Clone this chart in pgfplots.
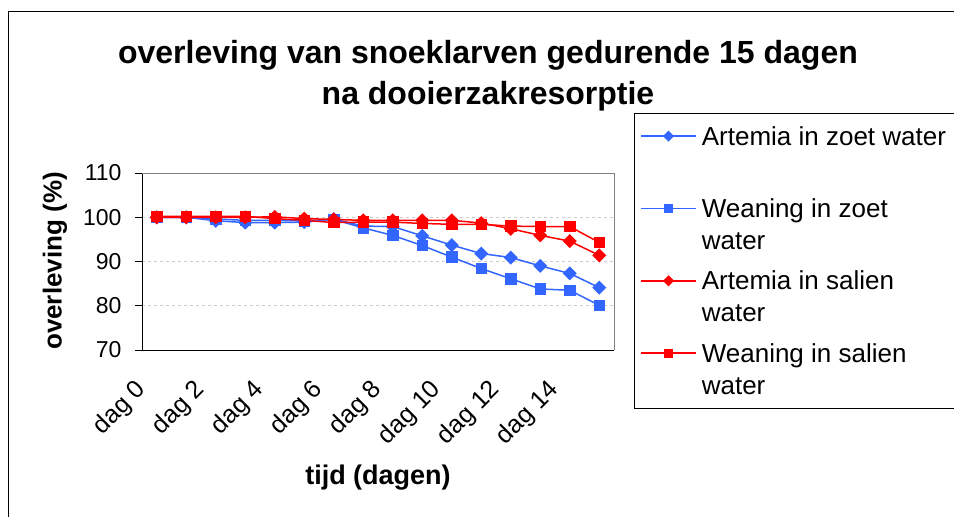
\documentclass[border=0pt]{standalone}
\usepackage{pgfplots}
\pgfplotsset{compat=1.18}
\usepackage{fontspec}
\setmainfont{Liberation Sans}
\definecolor{exblue}{RGB}{51,102,255}
\definecolor{exred}{RGB}{255,0,0}
\begin{document}
\begin{tikzpicture}
\useasboundingbox (0pt,0pt) rectangle (954pt,517pt);
% outer chart frame
\draw[black,line width=0.8pt] (8pt,-10pt) -- (8pt,506pt) -- (970pt,506pt);
% title
\node[anchor=base,font=\bfseries\fontsize{32}{36}\selectfont] at (488pt,453pt) {overleving van snoeklarven gedurende 15 dagen};
\node[anchor=base,font=\bfseries\fontsize{32}{36}\selectfont] at (488pt,412pt) {na dooierzakresorptie};
% axis labels
\node[rotate=90,font=\bfseries\fontsize{26}{30}\selectfont] at (55pt,256pt) {overleving (\%)};
\node[font=\bfseries\fontsize{27}{30}\selectfont] at (378pt,39pt) {tijd (dagen)};
\begin{axis}[
  at={(142pt,167pt)}, anchor=south west,
  scale only axis, width=472pt, height=177pt,
  xmin=0, xmax=16, ymin=70, ymax=110,
  axis x line*=bottom, axis y line*=left,
  axis line style={black,line width=0.8pt},
  /pgf/number format/assume math mode=true,
  ytick={70,80,90,100,110},
  yticklabel style={font=\fontsize{23}{26}\selectfont,xshift=-10pt},
  xtick={0.5,2.5,4.5,6.5,8.5,10.5,12.5,14.5},
  xticklabels={dag 0,dag 2,dag 4,dag 6,dag 8,dag 10,dag 12,dag 14},
  xticklabel style={font=\fontsize{25}{28}\selectfont,anchor=east,xshift=-12pt,yshift=-27pt,rotate=45},
  minor xtick={0,1,...,16},
  tick align=outside,
  major tick length=7pt, minor tick length=6pt,
  xtick style={draw=none},
  minor tick style={black,line width=0.8pt, draw=black},
  ytick style={black,line width=0.8pt},
  ymajorgrids, major grid style={dashed,gray!40,line width=0.9pt},
  clip=false,
  legend style={at={(1.0424,1.339)},anchor=north west,draw=black,line width=0.6pt,
    font=\fontsize{26}{32}\selectfont, cells={anchor=base west,align=left},
    inner xsep=6pt, inner ysep=11pt, row sep=16pt, column sep=3pt},
  legend image code/.code={\draw[#1,line width=1.5pt,mark repeat=2,mark phase=2,every mark/.append style={scale=0.75}] plot coordinates {(0pt,41pt) (27.5pt,41pt) (55pt,41pt)};},
]
\draw[gray,line width=0.8pt] (rel axis cs:0,1) -- (rel axis cs:1,1) -- (rel axis cs:1,0);
\addplot[exblue,line width=1.5pt,mark=square*,mark size=4.2pt,mark options={rotate=45,solid}] coordinates {
(0.5,100) (1.5,100) (2.5,99.2) (3.5,98.8) (4.5,98.8) (5.5,98.9) (6.5,99.6) (7.5,98.0)
(8.5,97.9) (9.5,95.8) (10.5,93.7) (11.5,91.8) (12.5,90.9) (13.5,89.0) (14.5,87.3) (15.5,84.1)};
\addlegendentry{Artemia in zoet water\\\mbox{}}
\addplot[exblue,line width=1.5pt,mark=square*,mark size=5pt] coordinates {
(0.5,100) (1.5,100) (2.5,99.6) (3.5,99.3) (4.5,99.3) (5.5,99.2) (6.5,99.5) (7.5,97.6)
(8.5,95.9) (9.5,93.6) (10.5,91.0) (11.5,88.4) (12.5,86.1) (13.5,83.8) (14.5,83.5) (15.5,80.1)};
\addlegendentry{Weaning in zoet\\water}
\addplot[exred,line width=1.5pt,mark=square*,mark size=4.2pt,mark options={rotate=45,solid}] coordinates {
(0.5,100) (1.5,100) (2.5,100) (3.5,100) (4.5,100.1) (5.5,99.7) (6.5,99.5) (7.5,99.3)
(8.5,99.3) (9.5,99.3) (10.5,99.3) (11.5,98.7) (12.5,97.4) (13.5,95.9) (14.5,94.6) (15.5,91.4)};
\addlegendentry{Artemia in salien\\water}
\addplot[exred,line width=1.5pt,mark=square*,mark size=5pt] coordinates {
(0.5,100.2) (1.5,100.2) (2.5,100.2) (3.5,100.2) (4.5,99.7) (5.5,99.3) (6.5,98.8) (7.5,98.9)
(8.5,98.9) (9.5,98.6) (10.5,98.4) (11.5,98.4) (12.5,98.0) (13.5,97.9) (14.5,97.9) (15.5,94.3)};
\addlegendentry{Weaning in salien\\water}
\end{axis}
\end{tikzpicture}
\end{document}
